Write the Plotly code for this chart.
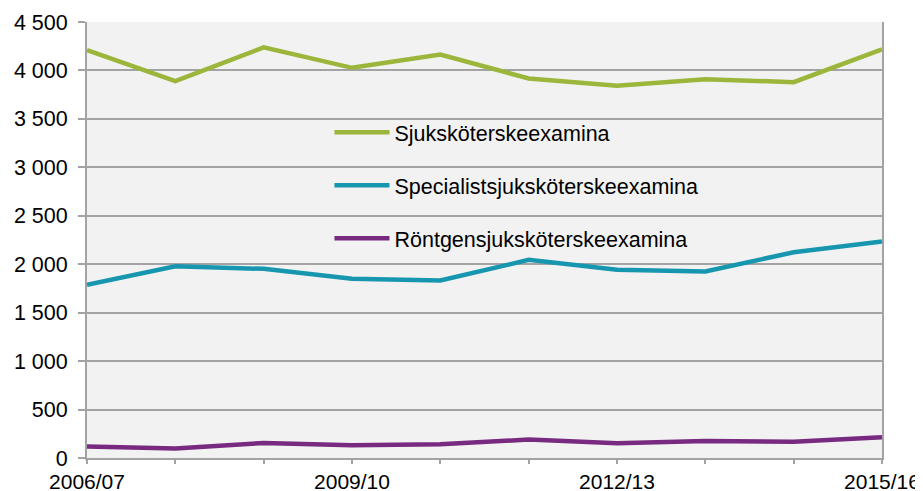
import plotly.graph_objects as go

years = ["2006/07", "2007/08", "2008/09", "2009/10", "2010/11",
         "2011/12", "2012/13", "2013/14", "2014/15", "2015/16"]
tick_labels = ["2006/07", "", "", "2009/10", "", "", "2012/13", "", "", "2015/16"]

sjukskoterske = [4210, 3889, 4238, 4027, 4165, 3917, 3841, 3910, 3879, 4217]
specialist = [1787, 1979, 1952, 1849, 1832, 2045, 1942, 1925, 2124, 2234]
rontgen = [118, 97, 155, 131, 141, 190, 152, 176, 169, 214]

series_names = ["Sjuksköterskeexamina", "Specialistsjuksköterskeexamina",
                "Röntgensjuksköterskeexamina"]
series_values = [sjukskoterske, specialist, rontgen]
colors = ["#9bb63a", "#1796b0", "#772a80"]

y_ticks = [0, 500, 1000, 1500, 2000, 2500, 3000, 3500, 4000, 4500]
y_tick_text = ["0", "500", "1 000", "1 500", "2 000", "2 500", "3 000",
               "3 500", "4 000", "4 500"]

x_idx = list(range(len(years)))

fig = go.Figure()
for i, (name, vals, col) in enumerate(zip(series_names, series_values, colors)):
    fig.add_trace(go.Scatter(
        x=x_idx, y=vals, name=name, mode="lines",
        line=dict(color=col, width=4.5),
        legendgroup=f"g{i}",
    ))

grid_col = "#a3a3a3"
fs = 21.5
# page body has an 8px default margin, so the figure is sized to fit
fig.update_layout(
    width=915, height=483,
    margin=dict(l=79, r=41, t=14, b=33),
    paper_bgcolor="white",
    plot_bgcolor="#f2f2f2",
    font=dict(family="Liberation Sans, Arial, sans-serif", size=fs, color="black"),
    showlegend=True,
    legend=dict(
        x=0.305, y=0.794, xanchor="left", yanchor="top",
        bgcolor="rgba(0,0,0,0)",
        font=dict(size=fs),
        tracegroupgap=22,
        itemwidth=55,
    ),
    xaxis=dict(
        range=[0, 9], automargin=False,
        tickmode="array", tickvals=x_idx, ticktext=tick_labels,
        ticks="outside", ticklen=4, tickwidth=1.5, tickcolor=grid_col,
        showline=True, linecolor=grid_col, linewidth=2,
        showgrid=False, zeroline=False,
        tickfont=dict(size=21),
    ),
    yaxis=dict(
        range=[0, 4500], automargin=False,
        tickmode="array", tickvals=y_ticks, ticktext=y_tick_text,
        ticks="outside", ticklen=7, tickwidth=1.5, tickcolor=grid_col,
        showline=True, linecolor=grid_col, linewidth=2, mirror=True,
        showgrid=True, gridcolor=grid_col, gridwidth=1.5,
        zeroline=False, ticklabelstandoff=6,
        tickfont=dict(size=fs),
    ),
)

fig.write_html("out.html")
